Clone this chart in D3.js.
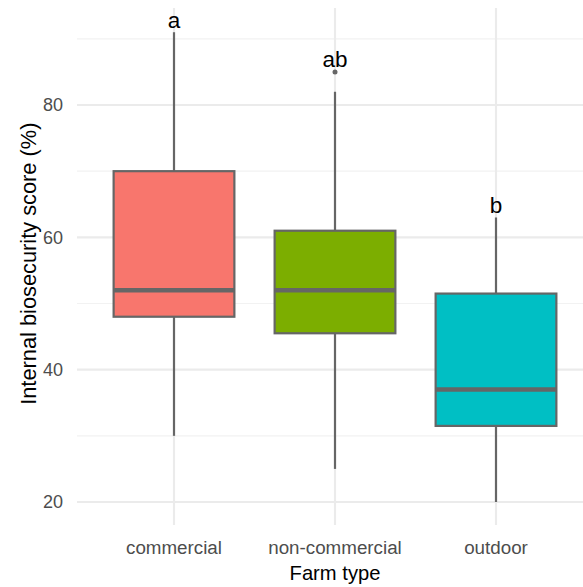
<!DOCTYPE html>
<html>
<head>
<meta charset="utf-8">
<script src="https://cdn.jsdelivr.net/npm/d3@7"></script>
<style>
  html, body { margin: 0; padding: 0; background: #fff; }
  svg { display: block; font-family: "Liberation Sans", Arial, sans-serif; }
</style>
</head>
<body>
<svg id="chart" width="583" height="587"></svg>
<script>
// ---- data ----
const categories = ["commercial", "non-commercial", "outdoor"];
const colors = ["#F8766D", "#7CAE00", "#00BFC4"];
const whiskerLow = [30, 25, 20];
const q1 = [48, 45.5, 31.5];
const median = [52, 52, 37];
const q3 = [70, 61, 51.5];
const whiskerHigh = [91, 82, 63];
const outliers = [[], [85], []];
const letters = ["a", "ab", "b"];
const letterY = [91, 85, 63];
const yTicks = [20, 40, 60, 80];
const yMinor = [30, 50, 70, 90];

// ---- layout ----
const svg = d3.select("#chart");
const panel = { left: 77, top: 8, bottom: 525 };
const y = d3.scaleLinear().domain([20, 80]).range([502, 105]);
const x = d3.scaleLinear().domain([0.4, 3.6]).range([77.4, 592.6]);
const boxW = x(1.375) - x(0.625);

const grid = svg.append("g");
grid.selectAll("line.minor").data(yMinor).join("line")
  .attr("x1", panel.left).attr("x2", 583)
  .attr("y1", d => y(d)).attr("y2", d => y(d))
  .attr("stroke", "#f2f2f2").attr("stroke-width", 1.1);
grid.selectAll("line.major").data(yTicks).join("line")
  .attr("x1", panel.left).attr("x2", 583)
  .attr("y1", d => y(d)).attr("y2", d => y(d))
  .attr("stroke", "#ebebeb").attr("stroke-width", 2.1);
grid.selectAll("line.vmajor").data(categories).join("line")
  .attr("x1", (d, i) => x(i + 1)).attr("x2", (d, i) => x(i + 1))
  .attr("y1", panel.top).attr("y2", panel.bottom)
  .attr("stroke", "#ebebeb").attr("stroke-width", 2.1);

// y axis tick labels
svg.append("g").selectAll("text").data(yTicks).join("text")
  .attr("x", 63).attr("y", d => y(d)).attr("dy", "0.36em")
  .attr("text-anchor", "end").attr("fill", "#4d4d4d")
  .attr("font-size", 18).text(d => d);

// x axis tick labels
svg.append("g").selectAll("text").data(categories).join("text")
  .attr("x", (d, i) => x(i + 1)).attr("y", 554)
  .attr("text-anchor", "middle").attr("fill", "#4d4d4d")
  .attr("font-size", 18.8).text(d => d);

// axis titles
svg.append("text").attr("x", (x(1) + x(3)) / 2).attr("y", 580)
  .attr("text-anchor", "middle").attr("font-size", 20.2).attr("fill", "#000")
  .text("Farm type");
svg.append("text")
  .attr("transform", `translate(36, ${(121.7 + 405.7) / 2}) rotate(-90)`)
  .attr("text-anchor", "middle").attr("font-size", 21.8).attr("fill", "#000")
  .text("Internal biosecurity score (%)");

// boxes
const stroke = "#666666";
const g = svg.append("g");
categories.forEach((c, i) => {
  const cx = x(i + 1);
  const bx = g.append("g");
  bx.append("line").attr("x1", cx).attr("x2", cx)
    .attr("y1", y(q3[i])).attr("y2", y(whiskerHigh[i]))
    .attr("stroke", stroke).attr("stroke-width", 2.2);
  bx.append("line").attr("x1", cx).attr("x2", cx)
    .attr("y1", y(q1[i])).attr("y2", y(whiskerLow[i]))
    .attr("stroke", stroke).attr("stroke-width", 2.2);
  bx.append("rect").attr("x", cx - boxW / 2).attr("width", boxW)
    .attr("y", y(q3[i])).attr("height", y(q1[i]) - y(q3[i]))
    .attr("fill", colors[i]).attr("stroke", stroke).attr("stroke-width", 2.2);
  bx.append("line").attr("x1", cx - boxW / 2).attr("x2", cx + boxW / 2)
    .attr("y1", y(median[i])).attr("y2", y(median[i]))
    .attr("stroke", stroke).attr("stroke-width", 4.4);
  bx.selectAll("circle").data(outliers[i]).join("circle")
    .attr("cx", cx).attr("cy", d => y(d)).attr("r", 2.5)
    .attr("fill", stroke);
});

// letters
svg.append("g").selectAll("text").data(letters).join("text")
  .attr("x", (d, i) => x(i + 1)).attr("y", (d, i) => y(letterY[i]) - 4.5)
  .attr("text-anchor", "middle").attr("font-size", 22.5).attr("fill", "#000")
  .text(d => d);
</script>
</body>
</html>
